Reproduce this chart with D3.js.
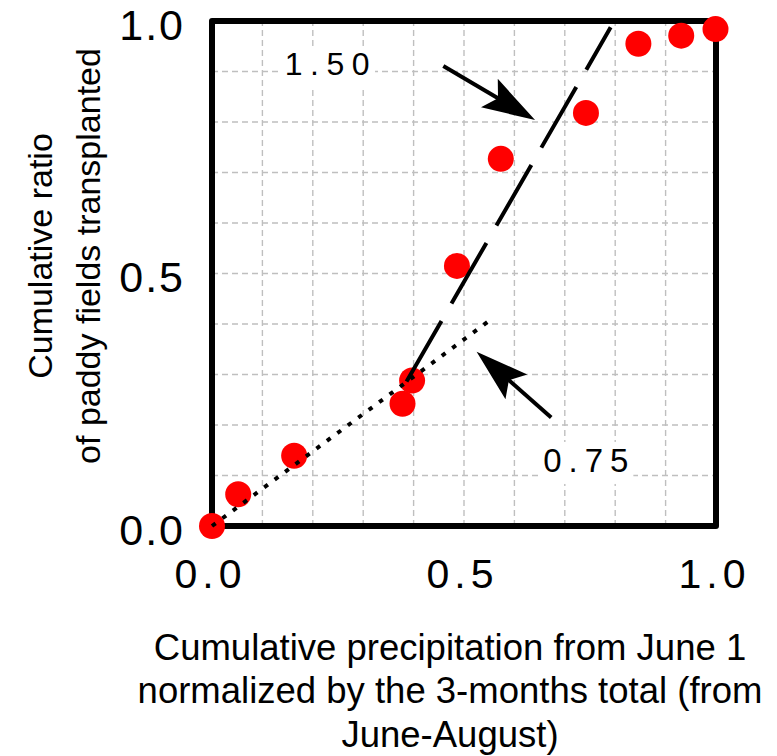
<!DOCTYPE html>
<html>
<head>
<meta charset="utf-8">
<script src="https://cdn.jsdelivr.net/npm/d3@7"></script>
<style>
  html, body { margin: 0; padding: 0; background: #fff; }
  svg { display: block; }
  text { font-family: "Liberation Sans", Arial, sans-serif; fill: #000; }
</style>
</head>
<body>
<svg id="chart" width="777" height="756"></svg>
<script>
// ---- data ----
const precip = [0.0, 0.052, 0.163, 0.378, 0.397, 0.486, 0.573, 0.742, 0.846, 0.931, 0.999];
const transplanted = [0.0, 0.063, 0.139, 0.242, 0.288, 0.515, 0.727, 0.818, 0.955, 0.971, 0.984];
const tickValues = [0, 0.5, 1.0];
const tickLabels = ["0.0", "0.5", "1.0"];
const gridValues = [0.1, 0.2, 0.3, 0.4, 0.5, 0.6, 0.7, 0.8, 0.9];
// fitted slope lines (x, y endpoints)
const dottedLine = [[0.0, 0.0], [0.548, 0.405]];   // slope 0.75
const dashedLine = [[0.386, 0.286], [0.791, 0.9875]]; // slope 1.50
const slopeLabels = ["1.50", "0.75"];
const labelPos = [[0.1444, 0.893], [0.657, 0.107]];
const arrowFrom = [[0.459, 0.911], [0.673, 0.215]];
const arrowTo = [[0.641, 0.804], [0.525, 0.345]];
const xTitle = ["Cumulative precipitation from June 1", "normalized by the 3-months total (from", "June-August)"];
const yTitle = ["Cumulative ratio", "of paddy fields transplanted"];

// ---- layout ----
const svg = d3.select("#chart");
const L = 212, R = 716, T = 21, B = 526;
const x = d3.scaleLinear().domain([0, 1]).range([L, R]);
const y = d3.scaleLinear().domain([0, 1]).range([B, T]);

// grid
const grid = svg.append("g").attr("stroke", "#bfbfbf").attr("stroke-width", 1.4).attr("stroke-dasharray", "6,4");
grid.selectAll("line.v").data(gridValues).join("line")
  .attr("x1", d => x(d)).attr("x2", d => x(d)).attr("y1", y(0)).attr("y2", y(1));
grid.selectAll("line.h").data(gridValues).join("line")
  .attr("y1", d => y(d)).attr("y2", d => y(d)).attr("x1", x(0)).attr("x2", x(1));

// label backgrounds + labels (drawn before frame so they only hide grid)
const labG = svg.append("g");
slopeLabels.forEach((s, i) => {
  const t = labG.append("text")
    .attr("x", x(labelPos[i][0])).attr("y", y(labelPos[i][1]))
    .attr("font-size", i === 0 ? 32 : 33)
    .attr("letter-spacing", i === 0 ? 7.5 : 7)
    .text(s);
  const bb = t.node().getBBox();
  labG.insert("rect", "text")
    .attr("x", bb.x - 4).attr("y", bb.y).attr("width", bb.width + 2).attr("height", bb.height + 5)
    .attr("fill", "#fff");
});

// frame
svg.append("rect")
  .attr("x", x(0)).attr("y", y(1)).attr("width", x(1) - x(0)).attr("height", y(0) - y(1))
  .attr("fill", "none").attr("stroke", "#000").attr("stroke-width", 6).attr("stroke-linejoin", "round");

// axes (labels only)
const xAxis = d3.axisBottom(x).tickValues(tickValues).tickFormat((d, i) => tickLabels[i]).tickSize(0).tickPadding(0);
const gx = svg.append("g").attr("transform", `translate(-2,${B})`).call(xAxis);
gx.select(".domain").remove();
gx.selectAll("text").attr("font-size", 41).attr("letter-spacing", 5).attr("dy", null).attr("y", 62)
  .attr("font-family", "Liberation Sans, Arial, sans-serif").attr("fill", "#000");

const yAxis = d3.axisLeft(y).tickValues(tickValues).tickFormat((d, i) => tickLabels[i]).tickSize(0).tickPadding(0);
const gy = svg.append("g").attr("transform", `translate(183,0)`).call(yAxis);
gy.select(".domain").remove();
gy.selectAll("text").attr("font-size", 43).attr("letter-spacing", 2).attr("dy", "0.42em").attr("x", 2)
  .attr("font-family", "Liberation Sans, Arial, sans-serif").attr("fill", "#000");

// points
svg.append("g").selectAll("circle").data(precip.map((p, i) => [p, transplanted[i]])).join("circle")
  .attr("cx", d => x(d[0])).attr("cy", d => y(d[1])).attr("r", 13).attr("fill", "#ff0000");

// slope lines
const line = d3.line().x(d => x(d[0])).y(d => y(d[1]));
svg.append("path").attr("d", line(dottedLine)).attr("fill", "none").attr("stroke", "#000")
  .attr("stroke-width", 4).attr("stroke-dasharray", "4.5,8.5");
svg.append("path").attr("d", line(dashedLine)).attr("fill", "none").attr("stroke", "#000")
  .attr("stroke-width", 4).attr("stroke-dasharray", "70,20");

// arrows
arrowFrom.forEach((f, i) => {
  const x1 = x(f[0]), y1 = y(f[1]), x2 = x(arrowTo[i][0]), y2 = y(arrowTo[i][1]);
  const ang = Math.atan2(y2 - y1, x2 - x1) * 180 / Math.PI;
  const len = Math.hypot(x2 - x1, y2 - y1);
  const g = svg.append("g").attr("transform", `translate(${x2},${y2}) rotate(${ang})`);
  g.append("line").attr("x1", -len).attr("y1", 0).attr("x2", -40).attr("y2", 0)
    .attr("stroke", "#000").attr("stroke-width", 4);
  g.append("path").attr("d", "M0,0 L-53,-16.5 L-43,0 L-53,16.5 Z").attr("fill", "#000");
});

// axis titles
const xt = svg.append("g").attr("font-size", 36.5).attr("text-anchor", "middle");
const xtY = [660, 703, 747];
xTitle.forEach((s, i) => xt.append("text").attr("x", 450).attr("y", xtY[i]).text(s));

const ytX = [52, 100];
yTitle.forEach((s, i) => svg.append("text")
  .attr("transform", `translate(${ytX[i]},256) rotate(-90)`)
  .attr("text-anchor", "middle").attr("font-size", 34).text(s));
</script>
</body>
</html>
